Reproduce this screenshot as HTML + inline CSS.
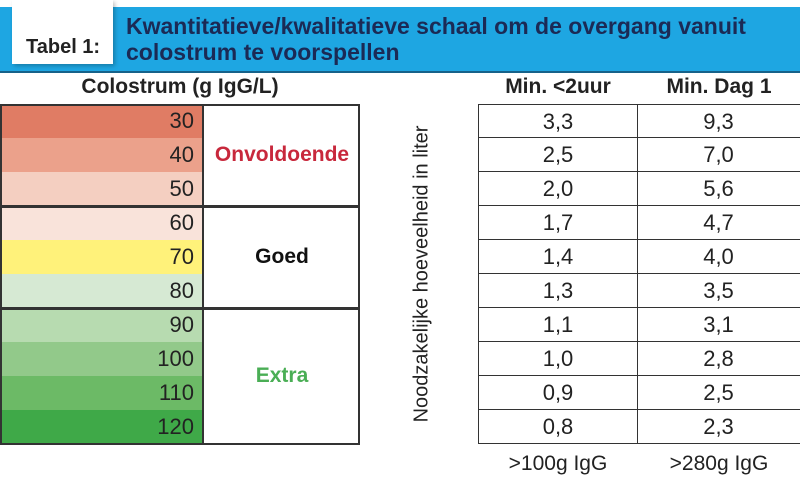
<!DOCTYPE html>
<html><head><meta charset="utf-8">
<style>
body{margin:0;width:800px;height:481px;background:#fff;overflow:hidden;position:relative;font-family:"Liberation Sans Narrow","Liberation Sans",sans-serif;color:#222}
.abs{position:absolute}
#bar{left:0;top:7px;width:800px;height:64px;background:#1ea6e2;border-bottom:2px solid #16628a}
#tab{left:12px;top:0;width:101px;height:64px;background:#fff;box-shadow:2px 2px 4px rgba(0,0,0,.25)}
#tablbl{left:26px;top:36px;font-weight:bold;font-size:20px;color:#222}
#title{left:126px;top:13px;font-weight:bold;font-size:23px;line-height:26px;color:#1b2a55}
.cell{position:absolute;box-sizing:border-box;font-size:22px}
.hdr{position:absolute;font-weight:bold;font-size:21px;text-align:center}
</style></head><body>
<div id="bar" class="abs"></div>
<div id="tab" class="abs"></div>
<div id="tablbl" class="abs">Tabel 1:</div>
<div id="title" class="abs">Kwantitatieve/kwalitatieve schaal om de overgang vanuit<br>colostrum te voorspellen</div>
<div class="hdr" style="left:0;width:360px;top:75px">Colostrum (g IgG/L)</div>
<div class="hdr" style="left:478px;width:160px;top:75px">Min. &lt;2uur</div>
<div class="hdr" style="left:638px;width:162px;top:75px">Min. Dag 1</div>
<div class="abs" style="left:422px;top:274px;width:0;height:0">
<div style="position:absolute;transform:translate(-50%,-50%) rotate(-90deg);white-space:nowrap;font-size:20px">Noodzakelijke hoeveelheid in liter</div></div>
<div class="abs" style="left:478px;width:160px;top:452px;text-align:center;font-size:21px">&gt;100g IgG</div>
<div class="abs" style="left:638px;width:162px;top:452px;text-align:center;font-size:21px">&gt;280g IgG</div>
<div id="root"></div>
<script>
const levels=[30,40,50,60,70,80,90,100,110,120];
const colors=["#e07c64","#eba18b","#f4cfc1","#f9e3da","#fff27a","#d6e9d3","#b7dbb0","#92c98a","#6cba66","#3fa948"];
const min2uur=["3,3","2,5","2,0","1,7","1,4","1,3","1,1","1,0","0,9","0,8"];
const minDag1=["9,3","7,0","5,6","4,7","4,0","3,5","3,1","2,8","2,5","2,3"];
const groups=["Onvoldoende","Goed","Extra"];
const groupColors=["#c8283c","#111","#4aae55"];
const top0=104,rowH=34;
const root=document.getElementById('root');
function mk(css,txt){const d=document.createElement('div');d.className='cell';d.style.cssText=css;if(txt!=null)d.textContent=txt;root.appendChild(d);return d;}
levels.forEach((v,i)=>{
  const y=top0+i*rowH;
  const c=mk(`left:0;top:${y}px;width:202px;height:${rowH}px;background:${colors[i]};text-align:right;padding-right:8px;line-height:${rowH}px`,v);
  
  
  const a=mk(`left:478px;top:${y}px;width:160px;height:${rowH}px;border:1px solid #333;border-top:${i?0:1}px solid #333;text-align:center;line-height:${rowH}px`,min2uur[i]);
  
  
  const b=mk(`left:638px;top:${y}px;width:170px;height:${rowH}px;border:1px solid #333;border-left:0;border-top:${i?0:1}px solid #333;text-align:center;line-height:${rowH}px;padding-right:8px`,minDag1[i]);
  
  
});
const starts=[0,3,6],counts=[3,3,4];
groups.forEach((g,k)=>{
  const y=top0+starts[k]*rowH,h=counts[k]*rowH;
  const box=mk(`left:0;top:${y}px;width:360px;height:${h+1}px;border:2px solid #333;pointer-events:none`);
  
  
  const l=mk(`left:202px;top:${y}px;width:158px;height:${h}px;border-left:2px solid #333;font-weight:bold;font-size:21px;text-align:center;line-height:${h}px;color:${groupColors[k]}`,g);
  
  
});
</script>
</body></html>
